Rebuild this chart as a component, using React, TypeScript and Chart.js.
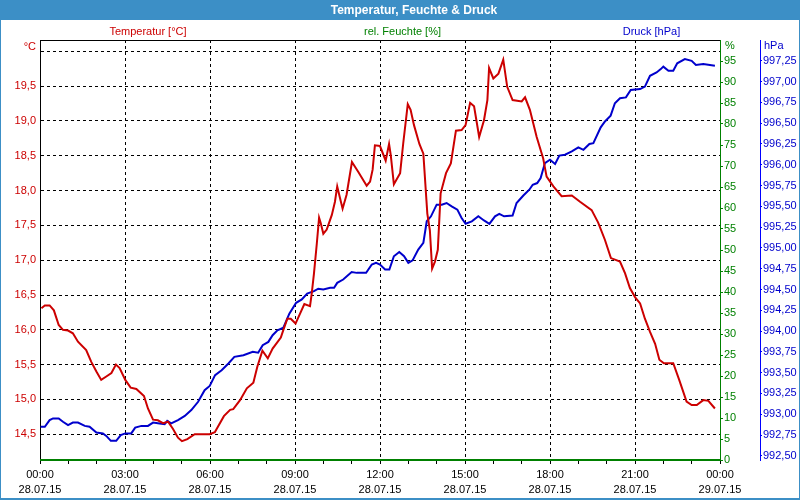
import React, { useEffect, useRef } from "react";
import { Chart, registerables } from "chart.js";

Chart.register(...registerables);

const FONT = "'Liberation Sans', Arial, sans-serif";

const chartTitle = "Temperatur, Feuchte & Druck";

// x axis: hours since 28.07.15 00:00
const hourTicks = [0, 1, 2, 3, 4, 5, 6, 7, 8, 9, 10, 11, 12, 13, 14, 15, 16, 17, 18, 19, 20, 21, 22, 23, 24];
const labelHours = [0, 3, 6, 9, 12, 15, 18, 21, 24];
const timeLabels = ["00:00", "03:00", "06:00", "09:00", "12:00", "15:00", "18:00", "21:00", "00:00"];
const dateLabels = ["28.07.15", "28.07.15", "28.07.15", "28.07.15", "28.07.15", "28.07.15", "28.07.15", "28.07.15", "29.07.15"];

const tempTicks = [14.5, 15, 15.5, 16, 16.5, 17, 17.5, 18, 18.5, 19, 19.5, 20];
const humidityTicks = [0, 5, 10, 15, 20, 25, 30, 35, 40, 45, 50, 55, 60, 65, 70, 75, 80, 85, 90, 95];
const pressureTicks = [992.5, 992.75, 993, 993.25, 993.5, 993.75, 994, 994.25, 994.5, 994.75, 995, 995.25, 995.5, 995.75, 996, 996.25, 996.5, 996.75, 997, 997.25];

const tempHours = [
  0.05, 0.17, 0.34, 0.49, 0.66, 0.81, 0.99, 1.16, 1.34, 1.63, 1.81, 1.99, 2.16, 2.34, 2.52, 2.68, 2.81,
  3.01, 3.2, 3.4, 3.67, 3.81, 3.99, 4.16, 4.34, 4.52, 4.69, 4.87, 5.01, 5.2, 5.46, 5.99, 6.17, 6.49,
  6.71, 6.82, 7.06, 7.3, 7.53, 7.67, 7.85, 8.04, 8.21, 8.5, 8.59, 8.73, 8.85, 9.02, 9.33, 9.53, 9.59,
  9.67, 9.77, 9.85, 9.91, 10.0, 10.12, 10.3, 10.41, 10.49, 10.59, 10.68, 10.82, 11.01, 11.23, 11.53,
  11.65, 11.74, 11.82, 12.0, 12.2, 12.32, 12.38, 12.49, 12.71, 12.82, 12.98, 13.08, 13.2, 13.39, 13.53,
  13.67, 13.76, 13.84, 13.94, 14.04, 14.14, 14.33, 14.5, 14.68, 14.88, 15.02, 15.18, 15.32, 15.5, 15.67,
  15.79, 15.85, 16.0, 16.18, 16.35, 16.49, 16.68, 17.0, 17.12, 17.29, 17.53, 17.76, 17.88, 18.12, 18.41,
  18.77, 19.06, 19.47, 19.7, 19.94, 20.15, 20.47, 20.65, 20.82, 21.0, 21.18, 21.35, 21.53, 21.71, 21.86,
  22.02, 22.35, 22.56, 22.82, 23.0, 23.18, 23.41, 23.59, 23.82,
];
const tempValues = [
  16.31, 16.35, 16.35, 16.28, 16.07, 16.0, 15.99, 15.95, 15.83, 15.71, 15.54, 15.4, 15.28, 15.33, 15.38, 15.5, 15.45,
  15.28, 15.17, 15.15, 15.05, 14.87, 14.71, 14.7, 14.66, 14.68, 14.58, 14.45, 14.4, 14.43, 14.5, 14.5, 14.53, 14.76,
  14.85, 14.86, 14.99, 15.16, 15.24, 15.47, 15.7, 15.59, 15.73, 15.89, 16.0, 16.16, 16.16, 16.09, 16.37, 16.34, 16.52,
  16.81, 17.24, 17.61, 17.53, 17.38, 17.44, 17.65, 17.84, 18.06, 17.89, 17.74, 17.94, 18.41, 18.27, 18.07,
  18.13, 18.3, 18.65, 18.64, 18.43, 18.67, 18.51, 18.09, 18.25, 18.68, 19.24, 19.16, 18.94, 18.67, 18.53,
  17.67, 17.43, 16.88, 16.98, 17.15, 17.96, 18.25, 18.39, 18.86, 18.87, 18.94, 19.26, 19.21, 18.77, 19.01,
  19.3, 19.76, 19.61, 19.68, 19.88, 19.49, 19.3, 19.28, 19.34, 19.16, 18.77, 18.46, 18.2, 18.06, 17.92,
  17.93, 17.84, 17.72, 17.54, 17.29, 17.03, 16.98, 16.81, 16.6, 16.47, 16.38, 16.16, 15.97, 15.8, 15.57,
  15.52, 15.52, 15.28, 14.97, 14.92, 14.92, 14.99, 14.98, 14.87,
];

const pressureHours = [
  0.02, 0.17, 0.34, 0.46, 0.66, 0.81, 0.99, 1.16, 1.34, 1.58, 1.75, 1.99, 2.22, 2.34, 2.5, 2.69, 2.85,
  3.01, 3.22, 3.36, 3.58, 3.81, 3.99, 4.22, 4.4, 4.49, 4.63, 4.87, 5.11, 5.34, 5.58, 5.81, 5.99, 6.18,
  6.41, 6.65, 6.86, 7.18, 7.51, 7.7, 7.86, 8.06, 8.21, 8.38, 8.59, 8.8, 9.04, 9.24, 9.43, 9.67, 9.82,
  10.0, 10.24, 10.38, 10.49, 10.7, 11.0, 11.18, 11.51, 11.71, 11.86, 12.0, 12.18, 12.33, 12.49, 12.68,
  12.85, 13.0, 13.15, 13.35, 13.53, 13.65, 13.8, 14.0, 14.18, 14.35, 14.53, 14.73, 14.88, 15.02, 15.24,
  15.47, 15.67, 15.86, 16.06, 16.21, 16.38, 16.68, 16.82, 17.06, 17.27, 17.39, 17.55, 17.67, 17.82, 18.0,
  18.18, 18.33, 18.53, 18.77, 19.0, 19.18, 19.39, 19.53, 19.79, 19.94, 20.14, 20.29, 20.47, 20.68, 20.85,
  21.18, 21.35, 21.53, 21.76, 21.91, 22.0, 22.18, 22.35, 22.49, 22.76, 23.0, 23.15, 23.41, 23.82,
];
const pressureValues = [
  992.85, 992.85, 992.93, 992.95, 992.95, 992.91, 992.87, 992.9, 992.9, 992.86, 992.85, 992.78, 992.77, 992.74, 992.68, 992.68, 992.75,
  992.77, 992.77, 992.84, 992.86, 992.86, 992.9, 992.89, 992.88, 992.92, 992.89, 992.93, 992.98, 993.05, 993.15, 993.29, 993.34, 993.47,
  993.53, 993.61, 993.69, 993.71, 993.75, 993.74, 993.83, 993.87, 993.95, 994.01, 994.04, 994.21, 994.34, 994.38, 994.45, 994.48, 994.51,
  994.5, 994.52, 994.52, 994.58, 994.62, 994.71, 994.7, 994.7, 994.8, 994.82, 994.8, 994.74, 994.74, 994.9, 994.95,
  994.9, 994.82, 994.85, 994.98, 995.06, 995.32, 995.38, 995.52, 995.52, 995.54, 995.5, 995.46, 995.36, 995.29, 995.32,
  995.38, 995.33, 995.29, 995.38, 995.41, 995.38, 995.39, 995.54, 995.63, 995.7, 995.76, 995.78, 995.84, 996.02, 996.06,
  996.01, 996.11, 996.12, 996.16, 996.21, 996.18, 996.25, 996.26, 996.45, 996.52, 996.59, 996.74, 996.8, 996.81, 996.9,
  996.91, 996.94, 997.07, 997.11, 997.15, 997.18, 997.13, 997.13, 997.22, 997.27, 997.25, 997.2, 997.21, 997.19,
];

const humidityHours = [0, 24];
const humidityValues = [0, 0];

const RED = "#cc0000";
const GREEN = "#008000";
const BLUE = "#0000cc";
const FRAME = "#3c8fc6";

const zip = (xs: number[], ys: number[]) => xs.map((x, i) => ({ x, y: ys[i] }));

const decor = {
  id: "decor",
  beforeDraw(chart: any) {
    const ctx = chart.ctx;
    ctx.save();
    ctx.fillStyle = "#ffffff";
    ctx.fillRect(0, 0, chart.width, chart.height);
    ctx.restore();
  },
  afterDraw(chart: any) {
    const ctx = chart.ctx;
    const { left, right, top } = chart.chartArea;
    ctx.save();
    ctx.fillStyle = FRAME;
    ctx.fillRect(0, 0, chart.width, 20);
    ctx.fillRect(0, 0, 1, chart.height);
    ctx.fillRect(chart.width - 1, 0, 1, chart.height);
    ctx.fillRect(0, chart.height - 2, chart.width, 2);

    ctx.font = `bold 12px ${FONT}`;
    ctx.fillStyle = "#ffffff";
    ctx.textAlign = "center";
    ctx.textBaseline = "middle";
    ctx.fillText(chartTitle, 414, 10.5);

    ctx.strokeStyle = "#000000";
    ctx.lineWidth = 1;
    ctx.beginPath();
    ctx.moveTo(left, top + 0.5);
    ctx.lineTo(right, top + 0.5);
    ctx.stroke();

    ctx.font = `11px ${FONT}`;
    ctx.textAlign = "center";
    ctx.fillStyle = RED;
    ctx.fillText("Temperatur [°C]", 148, 31.5);
    ctx.fillStyle = GREEN;
    ctx.fillText("rel. Feuchte [%]", 402.5, 31.5);
    ctx.fillStyle = BLUE;
    ctx.fillText("Druck [hPa]", 651.5, 31.5);

    ctx.textAlign = "right";
    ctx.fillStyle = RED;
    ctx.fillText("°C", 36, 47);
    ctx.textAlign = "left";
    ctx.fillStyle = GREEN;
    ctx.fillText("%", 725, 46);
    ctx.fillStyle = BLUE;
    ctx.fillText("hPa", 764, 46);
    ctx.restore();
  },
};

export default function App() {
  const ref = useRef<HTMLCanvasElement | null>(null);

  useEffect(() => {
    if (!ref.current) return;
    const tickFont = { family: FONT, size: 11, lineHeight: 15 / 11 };
    const chart = new Chart(ref.current, {
      type: "line",
      data: {
        datasets: [
          {
            label: "Temperatur [°C]",
            data: zip(tempHours, tempValues),
            yAxisID: "y",
            borderColor: RED,
            borderWidth: 2,
            pointRadius: 0,
            tension: 0,
          },
          {
            label: "Druck [hPa]",
            data: zip(pressureHours, pressureValues),
            yAxisID: "y2",
            borderColor: BLUE,
            borderWidth: 2,
            pointRadius: 0,
            tension: 0,
          },
          {
            label: "rel. Feuchte [%]",
            data: zip(humidityHours, humidityValues),
            yAxisID: "y1",
            borderColor: GREEN,
            borderWidth: 2,
            pointRadius: 0,
            tension: 0,
            clip: 2,
          },
        ],
      },
      options: {
        animation: false,
        responsive: false,
        devicePixelRatio: 1,
        layout: { padding: { top: 40, left: 0, right: 0, bottom: 0 } },
        plugins: { legend: { display: false }, tooltip: { enabled: false }, title: { display: false } },
        scales: {
          x: {
            type: "linear",
            position: "bottom",
            min: 0,
            max: 24,
            afterBuildTicks: (s: any) => {
              s.ticks = hourTicks.map((v) => ({ value: v }));
            },
            afterFit: (s: any) => {
              s.height = 40;
            },
            ticks: {
              autoSkip: false,
              maxRotation: 0,
              padding: 3,
              color: "#000000",
              font: tickFont,
              callback: (v: any) => {
                const i = labelHours.indexOf(Number(v));
                return i >= 0 ? [timeLabels[i], dateLabels[i]] : "";
              },
            },
            grid: {
              color: (c: any) => {
                const v = c.tick ? c.tick.value : -1;
                return v % 3 === 0 && v !== 0 && v !== 24 ? "#000000" : "rgba(0,0,0,0)";
              },
              tickColor: "#000000",
              tickLength: 4,
              drawTicks: true,
            },
            border: { display: true, color: "#000000", width: 1, dash: [3, 3] },
          },
          y: {
            type: "linear",
            position: "left",
            min: 14.13,
            max: 20.163,
            afterBuildTicks: (s: any) => {
              s.ticks = tempTicks.map((v) => ({ value: v }));
            },
            afterFit: (s: any) => {
              s.width = 40;
            },
            ticks: {
              autoSkip: false,
              padding: 4,
              color: RED,
              font: tickFont,
              callback: (v: any) => (Number(v) >= 20 ? "" : Number(v).toFixed(1).replace(".", ",")),
            },
            grid: { color: "#000000", drawTicks: false },
            border: { display: true, color: "#000000", width: 1, dash: [3, 3] },
          },
          y1: {
            type: "linear",
            position: "right",
            weight: 0,
            min: 0,
            max: 100,
            afterBuildTicks: (s: any) => {
              s.ticks = humidityTicks.map((v) => ({ value: v }));
            },
            afterFit: (s: any) => {
              s.width = 40;
            },
            ticks: {
              autoSkip: false,
              padding: 1,
              color: GREEN,
              font: tickFont,
              callback: (v: any) => String(v),
            },
            grid: { drawOnChartArea: false, color: GREEN, tickColor: GREEN, tickLength: 3 },
            border: { display: true, color: GREEN, width: 1 },
          },
          y2: {
            type: "linear",
            position: "right",
            weight: 1,
            min: 992.45,
            max: 997.5,
            afterBuildTicks: (s: any) => {
              s.ticks = pressureTicks.map((v) => ({ value: v }));
            },
            afterFit: (s: any) => {
              s.width = 40;
            },
            ticks: {
              autoSkip: false,
              padding: 1,
              color: BLUE,
              font: tickFont,
              callback: (v: any) => Number(v).toFixed(2).replace(".", ","),
            },
            grid: { drawOnChartArea: false, color: "#0000ff", tickColor: "#0000ff", tickLength: 2 },
            border: { display: true, color: "#0000ff", width: 1 },
          },
        },
      },
      plugins: [decor],
    } as any);
    return () => chart.destroy();
  }, []);

  return (
    <div style={{ position: "fixed", left: 0, top: 0, width: 800, height: 500, background: "#ffffff" }}>
      <canvas ref={ref} width={800} height={500} style={{ display: "block", width: 800, height: 500 }} />
    </div>
  );
}
